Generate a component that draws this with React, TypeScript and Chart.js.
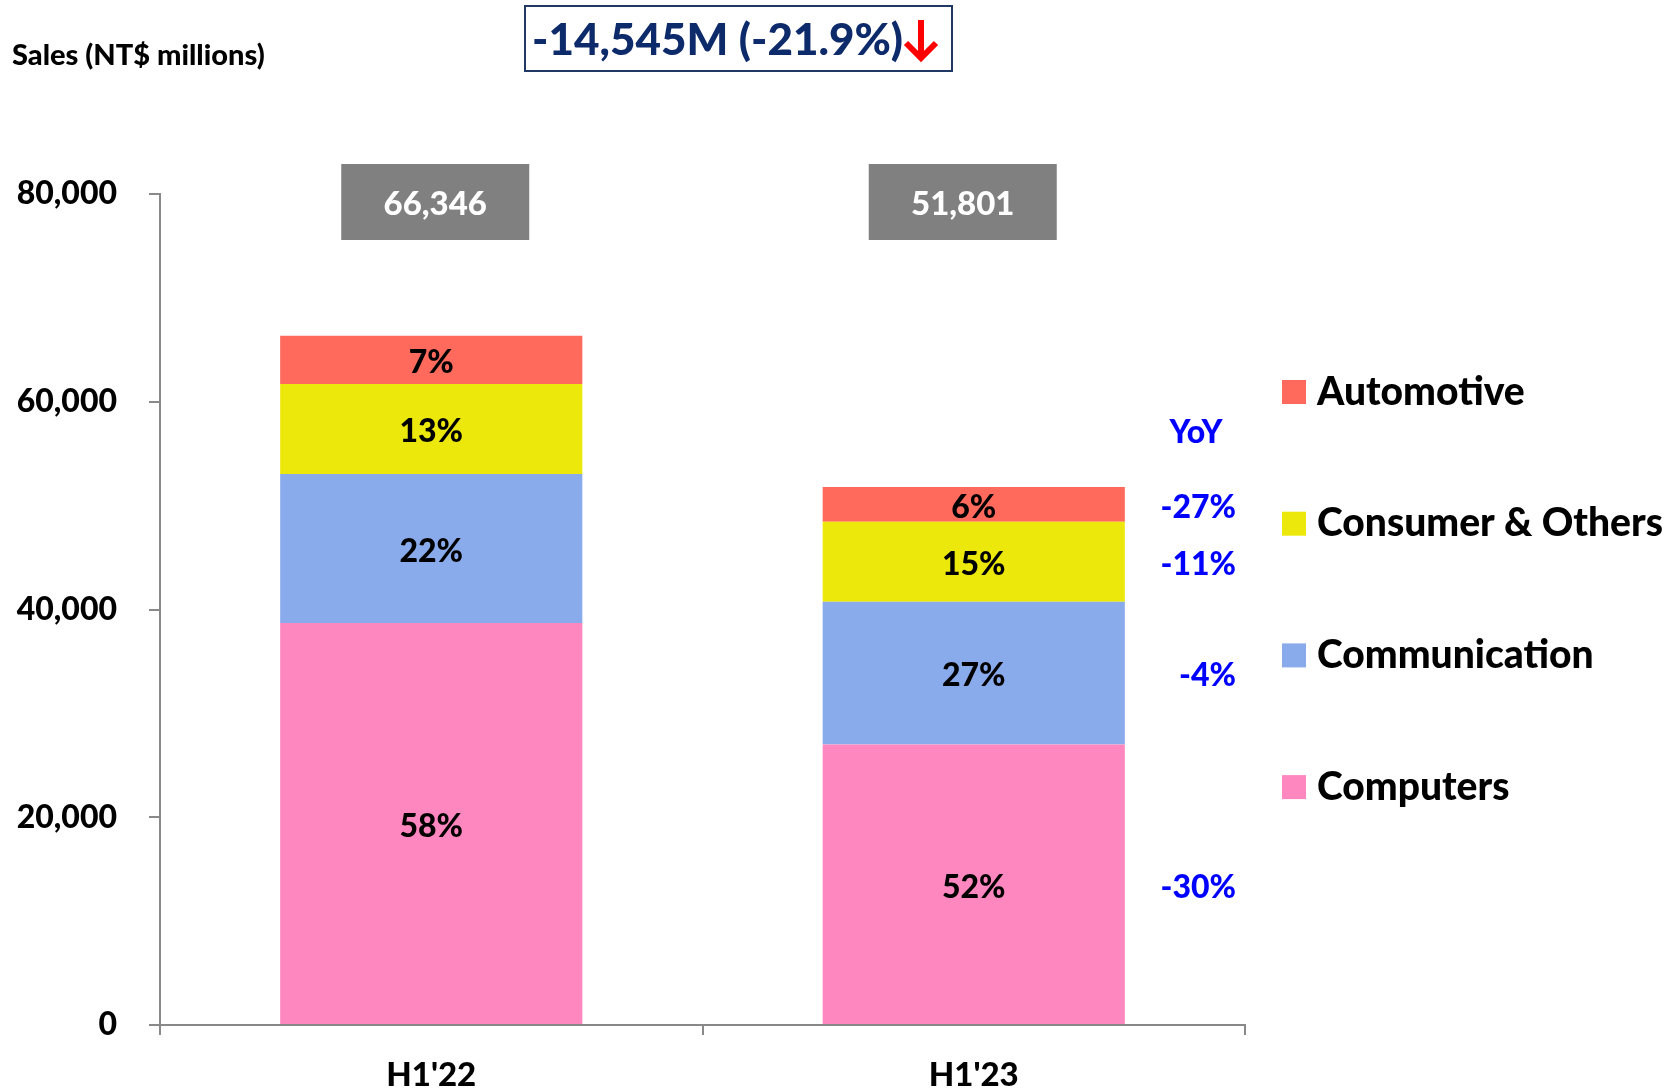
import React, { useEffect, useRef } from "react";
import { Chart, registerables } from "chart.js";

Chart.register(...registerables);

const categories = ["H1'22", "H1'23"];
const seriesNames = ["Computers", "Communication", "Consumer & Others", "Automotive"];
const computers = [38700, 27000];
const communication = [14350, 13750];
const consumer = [8650, 7700];
const automotive = [4646, 3351];
const computersShare = ["58%", "52%"];
const communicationShare = ["22%", "27%"];
const consumerShare = ["13%", "15%"];
const automotiveShare = ["7%", "6%"];
const yoyLabels = ["-30%", "-4%", "-11%", "-27%"];
const seriesColors = ["#FF87C0", "#8AABEB", "#EDE80B", "#FF6A5C"];
const headerText = "-14,545M (-21.9%)";
const yTitle = "Sales (NT$ millions)";

const LATO = "Lato, 'Open Sans', sans-serif";
const W = "900";

const overlayPlugin = {
  id: "overlay",
  afterDraw(chart: any) {
    const ctx = chart.ctx;
    const area = chart.chartArea;
    const shares = [computersShare, communicationShare, consumerShare, automotiveShare];
    ctx.save();
    // segment share labels
    ctx.fillStyle = "#000";
    ctx.font = `${W} 32px ${LATO}`;
    ctx.textAlign = "center";
    ctx.textBaseline = "middle";
    chart.data.datasets.forEach((ds: any, di: number) => {
      const meta = chart.getDatasetMeta(di);
      meta.data.forEach((bar: any, i: number) => {
        const cy = (bar.y + bar.base) / 2;
        ctx.fillText(shares[di][i], bar.x, cy + 3);
      });
    });
    // YoY labels next to the second bar
    ctx.fillStyle = "#0000FF";
    ctx.textAlign = "right";
    chart.data.datasets.forEach((ds: any, di: number) => {
      const bar = chart.getDatasetMeta(di).data[1];
      const cy = (bar.y + bar.base) / 2;
      ctx.fillText(yoyLabels[di], area.right - 9, cy + 3);
    });
    ctx.textAlign = "center";
    ctx.fillText("YoY", area.right - 49, chart.scales.y.getPixelForValue(57000));

    // total boxes
    const offsets = [4, -11];
    categories.forEach((c, i) => {
      const total = computers[i] + communication[i] + consumer[i] + automotive[i];
      const x = chart.getDatasetMeta(0).data[i].x + offsets[i];
      const bw = 188, bh = 76;
      const by = area.top - 30;
      ctx.fillStyle = "#808080";
      ctx.fillRect(x - bw / 2, by, bw, bh);
      ctx.fillStyle = "#FFFFFF";
      ctx.font = `${W} 33px ${LATO}`;
      ctx.textAlign = "center";
      ctx.textBaseline = "middle";
      ctx.fillText(total.toLocaleString("en-US"), x, by + bh / 2 + 2);
    });

    // axis title
    ctx.fillStyle = "#000";
    ctx.font = `${W} 29px ${LATO}`;
    ctx.textAlign = "left";
    ctx.textBaseline = "middle";
    ctx.fillText(yTitle, 12, 56);

    // header box
    ctx.strokeStyle = "#1F3864";
    ctx.lineWidth = 2;
    ctx.strokeRect(525, 6, 427, 65);
    ctx.fillStyle = "#0D2A6A";
    ctx.font = `${W} 44px ${LATO}`;
    ctx.textAlign = "left";
    ctx.fillText(headerText, 532, 41);
    // red down arrow
    ctx.strokeStyle = "#FF0000";
    ctx.lineWidth = 6;
    ctx.lineJoin = "miter";
    ctx.lineCap = "butt";
    ctx.beginPath();
    ctx.moveTo(921, 20);
    ctx.lineTo(921, 57);
    ctx.stroke();
    ctx.beginPath();
    ctx.moveTo(906, 43);
    ctx.lineTo(921, 58);
    ctx.lineTo(936, 43);
    ctx.stroke();

    // legend
    const legendOrder = [3, 2, 1, 0];
    ctx.font = `${W} 39px ${LATO}`;
    ctx.textBaseline = "middle";
    legendOrder.forEach((di, k) => {
      const cy = 392 + k * 131.7;
      ctx.fillStyle = seriesColors[di];
      ctx.fillRect(1282, cy - 12, 24, 24);
      ctx.fillStyle = "#000";
      ctx.fillText(seriesNames[di], 1317, cy);
    });
    ctx.restore();
  },
};

export default function App() {
  const ref = useRef<HTMLCanvasElement | null>(null);
  useEffect(() => {
    if (!ref.current) return;
    const seriesData = [computers, communication, consumer, automotive];
    const chart = new Chart(ref.current, {
      type: "bar",
      data: {
        labels: categories,
        datasets: seriesData.map((d, i) => ({
          label: seriesNames[i],
          data: d,
          backgroundColor: seriesColors[i],
          borderWidth: 0,
          categoryPercentage: 1,
          barPercentage: 0.557,
        })),
      },
      options: {
        responsive: false,
        animation: false,
        events: [],
        layout: { padding: { top: 194, right: 424, left: 0, bottom: 0 } },
        plugins: { legend: { display: false }, tooltip: { enabled: false } },
        scales: {
          x: {
            stacked: true,
            grid: { drawOnChartArea: false, drawTicks: true, tickLength: 10, color: "#898989", lineWidth: 2 },
            border: { display: true, color: "#898989", width: 2 },
            ticks: { color: "#000", font: { family: LATO, size: 33, weight: W }, padding: 21 },
            afterFit: (s: any) => { s.height = 63; },
          },
          y: {
            stacked: true,
            min: 0,
            max: 80000,
            grid: { drawOnChartArea: false, drawTicks: true, tickLength: 11, color: "#898989", lineWidth: 2 },
            border: { display: true, color: "#898989", width: 2 },
            ticks: {
              stepSize: 20000,
              color: "#000",
              padding: 32,
              font: { family: LATO, size: 32, weight: W },
              callback: (v: any) => Number(v).toLocaleString("en-US"),
            },
            afterFit: (s: any) => { s.width = 160; },
          },
        },
      },
      plugins: [overlayPlugin],
    });
    return () => chart.destroy();
  }, []);
  return (
    <div style={{ position: "fixed", left: 0, top: 0, width: 1669, height: 1088, background: "#fff" }}>
      <canvas ref={ref} width={1669} height={1088} style={{ width: 1669, height: 1088, display: "block" }} />
    </div>
  );
}
